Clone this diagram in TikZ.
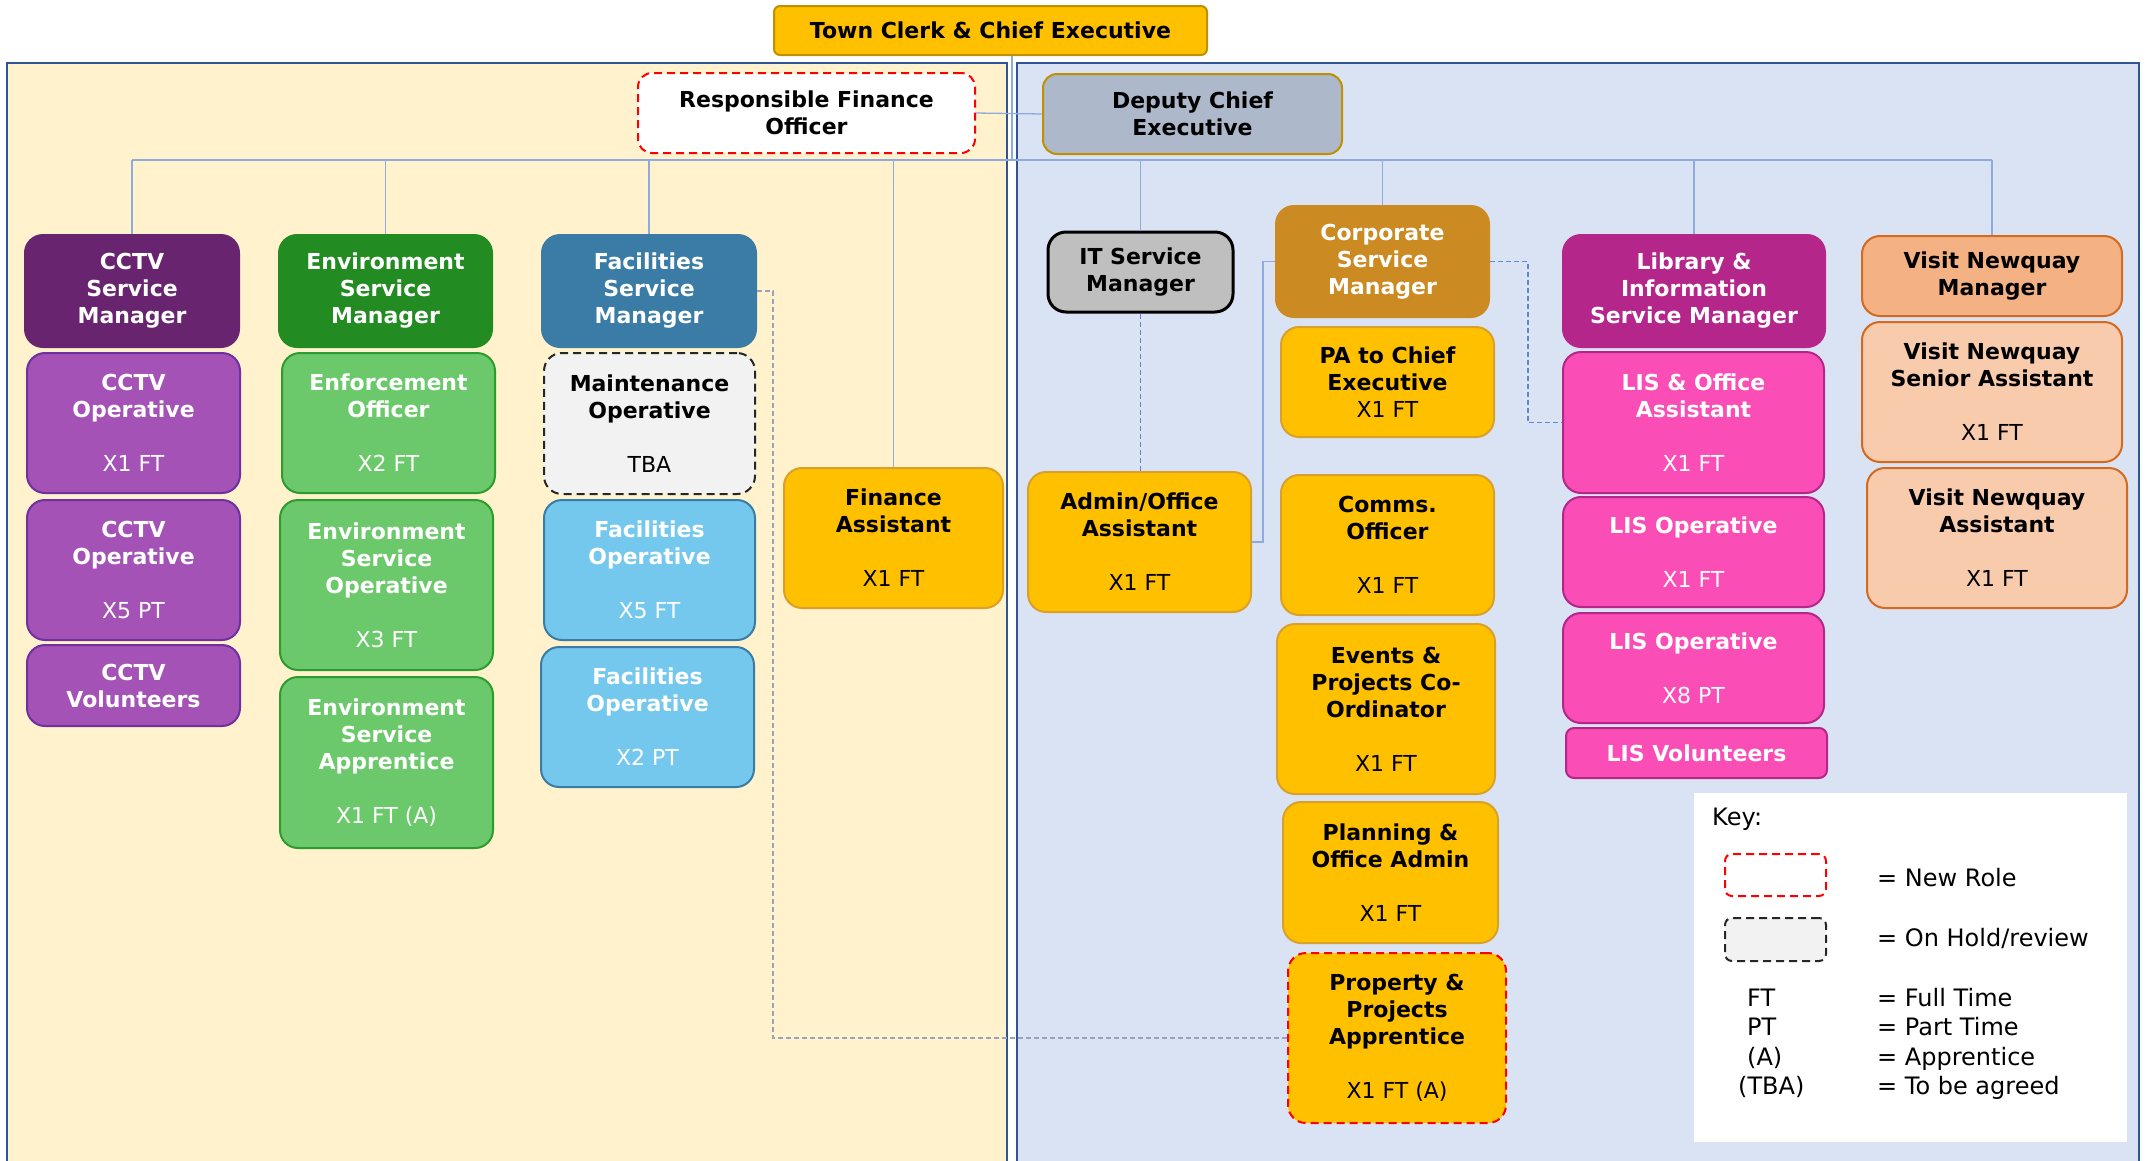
\documentclass[tikz,border=0pt]{standalone}
\usepackage{fontspec}
\setmainfont{DejaVu Sans}
\definecolor{tcgold}{HTML}{FFC000}
\definecolor{tcedge}{HTML}{BF9000}
\definecolor{yeledge}{HTML}{D9A12A}
\definecolor{depgrey}{HTML}{ADB9CA}
\definecolor{newred}{HTML}{FF0000}
\definecolor{paneledge}{HTML}{2F5597}
\definecolor{panelyel}{HTML}{FFF2CC}
\definecolor{panelblue}{HTML}{DAE3F3}
\definecolor{linkblue}{HTML}{8FAADC}
\definecolor{dashblue}{HTML}{5F87D2}
\definecolor{dashgrey}{HTML}{98A4BE}
\definecolor{cctvdark}{HTML}{68246F}
\definecolor{cctvfill}{HTML}{A452B5}
\definecolor{cctvedge}{HTML}{7030A0}
\definecolor{envdark}{HTML}{228B22}
\definecolor{envfill}{HTML}{6BC96B}
\definecolor{envedge}{HTML}{2E9B2E}
\definecolor{facdark}{HTML}{3A7CA5}
\definecolor{facfill}{HTML}{74C8EE}
\definecolor{holdfill}{HTML}{F2F2F2}
\definecolor{itfill}{HTML}{BFBFBF}
\definecolor{corpdark}{HTML}{CB8B22}
\definecolor{lisdark}{HTML}{B5268A}
\definecolor{lisfill}{HTML}{FA4DB5}
\definecolor{vnfill}{HTML}{F4B183}
\definecolor{vnlight}{HTML}{F8CBAD}
\definecolor{vnedge}{HTML}{D46A1F}

\begin{document}
\begin{tikzpicture}[x=1pt,y=-1pt,
  box/.style={rounded corners=18pt,line width=2pt,align=center,inner sep=0pt,font=\fontsize{22}{27}\selectfont\bfseries},
  cctvop/.style={box,fill=cctvfill,draw=cctvedge,text=white},
  envop/.style={box,fill=envfill,draw=envedge,text=white},
  facop/.style={box,fill=facfill,draw=facdark,text=white},
  yel/.style={box,fill=tcgold,draw=yeledge},
  lisop/.style={box,fill=lisfill,draw=lisdark,text=white},
  vnop/.style={box,fill=vnlight,draw=vnedge},
  link/.style={draw=linkblue,line width=1.3pt},
  dlink/.style={draw=dashblue,line width=1.1pt,dash pattern=on 5pt off 3pt},
  keytext/.style={inner sep=0pt,font=\fontsize{24}{30}\selectfont}]
\useasboundingbox (0,0) rectangle (2150,1160);

% panels
\draw[line width=2.5pt,draw=paneledge,fill=panelyel] (7,63) rectangle (1007,1175);
\draw[line width=2.5pt,draw=paneledge,fill=panelblue] (1017,63) rectangle (2139,1175);

% top
\node[box,fill=tcgold,draw=tcedge,rounded corners=6pt,minimum width=433pt,minimum height=49pt] (tc) at (990.5,30.5) {Town Clerk \& Chief Executive};
\node[box,fill=white,draw=newred,dash pattern=on 8pt off 5pt,rounded corners=14pt,minimum width=337pt,minimum height=80pt] (rfo) at (806.5,113) {Responsible Finance\\Officer};
\node[box,fill=depgrey,draw=tcedge,rounded corners=14pt,minimum width=299pt,minimum height=80pt] (dce) at (1192.5,114) {Deputy Chief\\Executive};

% left panel
\node[box,fill=cctvdark,draw=cctvdark,text=white,minimum width=214pt,minimum height=112pt] (cctv_mgr) at (132,291) {CCTV\\Service\\Manager};
\node[cctvop,minimum width=213pt,minimum height=140pt] (cctv_op1) at (133.5,423) {CCTV\\Operative\\[27pt]\mdseries X1 FT};
\node[cctvop,minimum width=213pt,minimum height=140pt] (cctv_op2) at (133.5,570) {CCTV\\Operative\\[27pt]\mdseries X5 PT};
\node[cctvop,minimum width=213pt,minimum height=81pt] (cctv_vol) at (133.5,685.5) {CCTV\\Volunteers};

\node[box,fill=envdark,draw=envdark,text=white,minimum width=213pt,minimum height=112pt] (env_mgr) at (385.5,291) {Environment\\Service\\Manager};
\node[envop,minimum width=213pt,minimum height=140pt] (env_enf) at (388.5,423) {Enforcement\\Officer\\[27pt]\mdseries X2 FT};
\node[envop,minimum width=213pt,minimum height=170pt] (env_op) at (386.5,585) {Environment\\Service\\Operative\\[27pt]\mdseries X3 FT};
\node[envop,minimum width=213pt,minimum height=171pt] (env_app) at (386.5,762.5) {Environment\\Service\\Apprentice\\[27pt]\mdseries X1 FT (A)};

\node[box,fill=facdark,draw=facdark,text=white,minimum width=214pt,minimum height=112pt] (fac_mgr) at (649,291) {Facilities\\Service\\Manager};
\node[box,fill=holdfill,draw=black!85,dash pattern=on 8pt off 5pt,minimum width=211pt,minimum height=141pt] (fac_mnt) at (649.5,423.5) {Maintenance\\Operative\\[27pt]\mdseries TBA};
\node[facop,minimum width=211pt,minimum height=140pt] (fac_op1) at (649.5,570) {Facilities\\Operative\\[27pt]\mdseries X5 FT};
\node[facop,minimum width=213pt,minimum height=140pt] (fac_op2) at (647.5,717) {Facilities\\Operative\\[27pt]\mdseries X2 PT};

\node[yel,minimum width=219pt,minimum height=140pt] (fin_ast) at (893.5,538) {Finance\\Assistant\\[27pt]\mdseries X1 FT};

% right panel
\node[box,fill=itfill,draw=black,line width=3pt,minimum width=185pt,minimum height=80pt] (it_mgr) at (1140.5,272) {IT Service\\Manager};
\node[yel,minimum width=223pt,minimum height=140pt] (corp_admin) at (1139.5,542) {Admin/Office\\Assistant\\[27pt]\mdseries X1 FT};

\node[box,fill=corpdark,draw=corpdark,text=white,minimum width=213pt,minimum height=111pt] (corp_mgr) at (1382.5,261.5) {Corporate\\Service\\Manager};
\node[yel,minimum width=213pt,minimum height=110pt] (corp_pa) at (1387.5,382) {PA to Chief\\Executive\\\mdseries X1 FT};
\node[yel,minimum width=213pt,minimum height=140pt] (corp_comms) at (1387.5,545) {Comms.\\Officer\\[27pt]\mdseries X1 FT};
\node[yel,minimum width=218pt,minimum height=170pt] (corp_events) at (1386,709) {Events \&\\Projects Co-\\Ordinator\\[27pt]\mdseries X1 FT};
\node[yel,minimum width=215pt,minimum height=141pt] (corp_plan) at (1390.5,872.5) {Planning \&\\Office Admin\\[27pt]\mdseries X1 FT};
\node[yel,draw=newred,dash pattern=on 8pt off 5pt,minimum width=218pt,minimum height=170pt] (corp_prop) at (1397,1038) {Property \&\\Projects\\Apprentice\\[27pt]\mdseries X1 FT (A)};

\node[box,fill=lisdark,draw=lisdark,text=white,minimum width=262pt,minimum height=112pt] (lis_mgr) at (1694,291) {Library \&\\Information\\Service Manager};
\node[lisop,minimum width=261pt,minimum height=141pt] (lis_oa) at (1693.5,422.5) {LIS \& Office\\Assistant\\[27pt]\mdseries X1 FT};
\node[lisop,minimum width=261pt,minimum height=110pt] (lis_op1) at (1693.5,552) {LIS Operative\\[27pt]\mdseries X1 FT};
\node[lisop,minimum width=261pt,minimum height=110pt] (lis_op2) at (1693.5,668) {LIS Operative\\[27pt]\mdseries X8 PT};
\node[lisop,rounded corners=8pt,minimum width=261pt,minimum height=50pt] (lis_vol) at (1696.5,753) {LIS Volunteers};

\node[box,fill=vnfill,draw=vnedge,minimum width=260pt,minimum height=80pt] (vn_mgr) at (1992,276) {Visit Newquay\\Manager};
\node[vnop,minimum width=260pt,minimum height=140pt] (vn_snr) at (1992,392) {Visit Newquay\\Senior Assistant\\[27pt]\mdseries X1 FT};
\node[vnop,minimum width=260pt,minimum height=140pt] (vn_ast) at (1997,538) {Visit Newquay\\Assistant\\[27pt]\mdseries X1 FT};

% connectors
\coordinate (bus) at (1012,160);
\draw[link] (bus |- tc.south) -- (bus);
\draw[link] (cctv_mgr.north |- bus) -- (vn_mgr.north |- bus);
\draw[link] (rfo.east) -- (dce.west);
\draw[link] (cctv_mgr.north |- bus) -- (cctv_mgr.north);
\draw[link] (env_mgr.north |- bus) -- (env_mgr.north);
\draw[link] (fac_mgr.north |- bus) -- (fac_mgr.north);
\draw[link] (fin_ast.north |- bus) -- (fin_ast.north);
\draw[link] (it_mgr.north |- bus) -- (it_mgr.north);
\draw[link] (corp_mgr.north |- bus) -- (corp_mgr.north);
\draw[link] (lis_mgr.north |- bus) -- (lis_mgr.north);
\draw[link] (vn_mgr.north |- bus) -- (vn_mgr.north);
\draw[link] (corp_mgr.west) -- ++(-12,0) |- (corp_admin.east);
\draw[dlink] (it_mgr.south) -- (it_mgr.south |- corp_admin.north);
\draw[dlink] (corp_mgr.east) -- ++(38,0) |- (lis_oa.west);
\draw[dlink,draw=dashgrey] (fac_mgr.east) -- ++(16,0) |- (corp_prop.west);

% key
\node[fill=white,minimum width=433pt,minimum height=349pt,inner sep=0pt] (key) at (1910.5,967.5) {};
\node[keytext,anchor=base west] (key_title) at (1712,825) {Key:};
\node[draw=newred,fill=white,line width=2pt,dash pattern=on 8pt off 5pt,rounded corners=7pt,minimum width=101pt,minimum height=42pt] (key_new) at (1775.5,875) {};
\node[draw=black!85,fill=holdfill,line width=2pt,dash pattern=on 8pt off 5pt,rounded corners=7pt,minimum width=101pt,minimum height=43pt] (key_hold) at (1775.5,939.5) {};
\node[keytext,anchor=base west] (key_newtxt) at (1877,886) {= New Role};
\node[keytext,anchor=base west] (key_holdtxt) at (1877,946) {= On Hold/review};
\node[keytext,anchor=base west] (key_ft) at (1747,1006) {FT};
\node[keytext,anchor=base west] (key_pt) at (1747,1035) {PT};
\node[keytext,anchor=base west] (key_a) at (1747,1065) {(A)};
\node[keytext,anchor=base west] (key_tba) at (1738,1094) {(TBA)};
\node[keytext,anchor=base west] (key_fttxt) at (1877,1006) {= Full Time};
\node[keytext,anchor=base west] (key_pttxt) at (1877,1035) {= Part Time};
\node[keytext,anchor=base west] (key_atxt) at (1877,1065) {= Apprentice};
\node[keytext,anchor=base west] (key_tbatxt) at (1877,1094) {= To be agreed};
\end{tikzpicture}
\end{document}
